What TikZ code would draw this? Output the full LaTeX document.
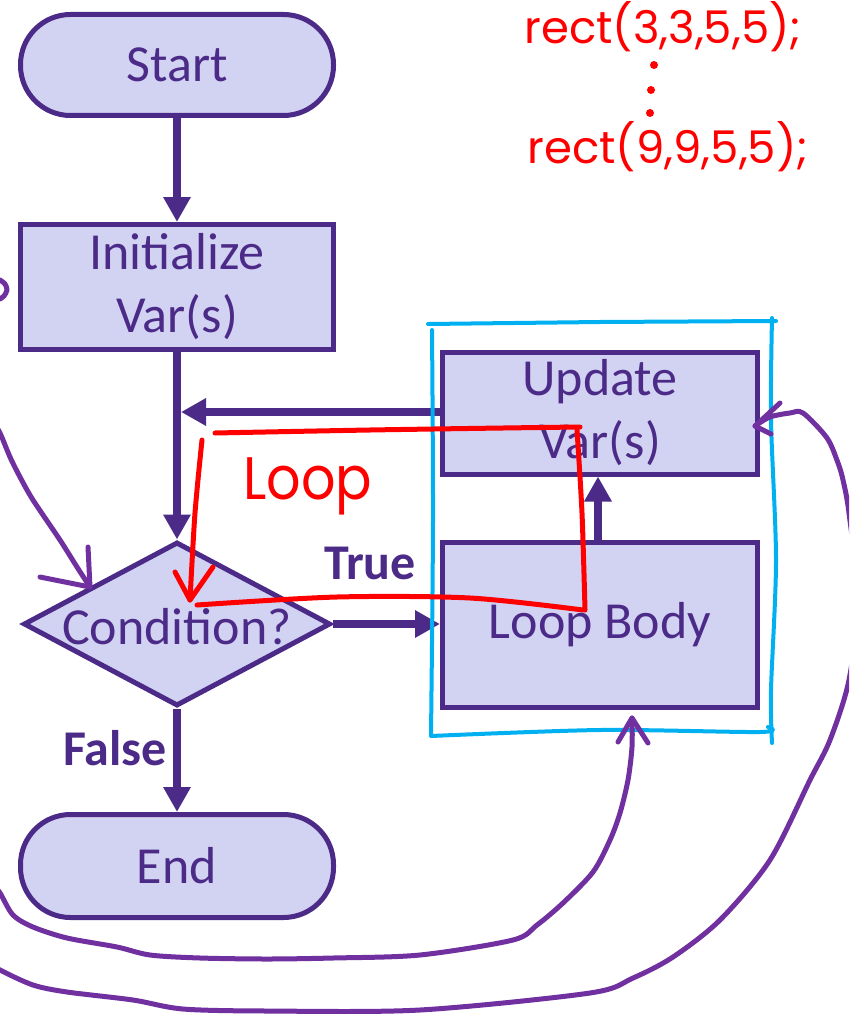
\documentclass[tikz,border=0pt]{standalone}
\usepackage{fontspec}
\setmainfont{Carlito}
\newfontfamily\handfont{Poppins}
\usepackage{tikz}
\usetikzlibrary{arrows.meta,shapes.geometric,positioning}
\definecolor{flowline}{RGB}{75,43,135}
\definecolor{flowfill}{RGB}{210,210,242}
\definecolor{inkpurple}{RGB}{112,48,160}
\definecolor{inkblue}{RGB}{0,176,240}
\definecolor{inkred}{RGB}{255,0,0}

\begin{document}
\begin{tikzpicture}[x=1pt, y=-1pt,
  every node/.style={font=\fontsize{52}{63}\selectfont, text=flowline},
  box/.style={draw=flowline, fill=flowfill, line width=5pt, inner sep=0pt, align=center},
  term/.style={box, rounded corners=50pt, minimum width=313pt, minimum height=101pt},
  proc/.style={box, minimum width=313pt, minimum height=125pt},
  decide/.style={box, diamond, minimum width=307pt, minimum height=164pt},
  flow/.style={draw=flowline, line width=8pt, -{Triangle[length=25pt,width=26pt]}},
  tag/.style={font=\bfseries\fontsize{50}{60}\selectfont},
  ink/.style={draw=inkpurple, line width=5pt, line cap=round, line join=round},
  redink/.style={draw=inkred, line width=5pt, line cap=round, line join=round},
  blueink/.style={draw=inkblue, line width=4pt, line cap=round, line join=round},
  scrawl/.style={font=\handfont\fontsize{45}{54}\selectfont, text=inkred}]
\useasboundingbox (0,0) rectangle (849,1014);
\clip (0,0) rectangle (849,1014);

%%%%% Flowchart %%%%%
\node[term] (start) at (177,65) {Start};
\node[proc] (init) at (177,287) {Initialize\\Var(s)};
\node[decide, label={[yshift=-3pt]center:Condition?}] (cond) at (177,624) {};
\node[proc, minimum width=315pt, minimum height=122pt] (upd) at (600,413) {Update\\Var(s)};
\node[proc, minimum width=315pt, minimum height=165pt] (body) at (600,625) {Loop Body};
\node[term, minimum height=103pt] (endn) at (177,866) {End};
\coordinate (merge) at (init.south |- 0,412);

\draw[flow] (start) -- (init);
\draw[flow] (init) -- (cond);
\draw[flow, shorten >=4pt] (upd.west |- merge) -- (merge);
\draw[flow] (cond.east) -- (cond.east -| body.west);
\draw[flow] (body.north -| 598,0) -- (upd.south -| 598,0);
\draw[flow] (cond) -- (endn);
\node[tag] (true) at (370,563) {True};
\node[tag] (false) at (115,748) {False};

%%%%% Blue frame %%%%%
\draw[blueink] (428,324) -- (600,322) -- (776,321);
\draw[blueink] plot[smooth] coordinates {(772,318) (771,420) (776,560) (771,690) (772,743)};
\draw[blueink] plot[smooth] coordinates {(432,330) (433,520) (431,735)};
\draw[blueink] plot[smooth] coordinates {(431,736) (600,730) (760,732) (768,727)};

%%%%% Red notes %%%%%
\node[scrawl] (code1) at (663,27) {rect(3,3,5,5);};
\node[scrawl] (code2) at (668,147) {rect(9,9,5,5);};
\foreach \y/\x in {65/654,90/651,113/650}{
\fill[inkred] (\x,\y) circle (4pt);
}
\node[scrawl, font=\handfont\fontsize{60}{66}\selectfont, xscale=0.9] (loop) at (308,486) {Loop};
\coordinate (tiploop) at (190,600);
\draw[redink] plot[smooth] coordinates {(215,433) (370,430) (503,428) (580,427)};
\draw[redink] plot[smooth] coordinates {(577,430) (582,513) (585,610)};
\draw[redink] plot[smooth] coordinates {(583,610) (470,598) (337,597) (197,605)};
\draw[redink] plot[smooth] coordinates {(202,440) (195,513) (tiploop)};
\draw[redink] (175,572) -- (tiploop) -- (213,567);

%%%%% Purple notes %%%%%
\coordinate (tipcond) at (90,587);
\coordinate (tipbody) at (632,718);
\coordinate (tipupd) at (755,426);
\draw[ink] plot[smooth] coordinates {(0,280) (5,284) (7,290) (4,296) (0,299)};
\draw[ink] plot[smooth] coordinates {(-8,420) (0,433) (10,457) (20,477) (33,500) (60,540) (77,567) (tipcond)};
\draw[ink] (40,577) -- (tipcond) -- (88,547);
\draw[ink] plot[smooth] coordinates {(-10,880) (0,893) (13,915) (33,927) (67,938) (117,947) (150,955) (200,958) (267,959) (333,958) (420,955) (513,940) (537,925) (563,903) (593,872) (610,840) (620,813) (628,780) (632,747) (tipbody)};
\draw[ink] (618,742) -- (tipbody) -- (648,743);
\draw[ink] plot[smooth] coordinates {(-10,963) (0,970) (33,985) (67,992) (133,1000) (183,1009) (267,1011) (420,1010) (590,993) (633,978) (673,957) (720,920) (770,860) (810,780) (830,740) (849,680) (858,600) (849,513) (843,480) (838,463) (827,438) (803,413) (790,413) (770,417) (tipupd)};
\draw[ink] (780,403) -- (tipupd) -- (771,434);

\end{tikzpicture}
\end{document}
